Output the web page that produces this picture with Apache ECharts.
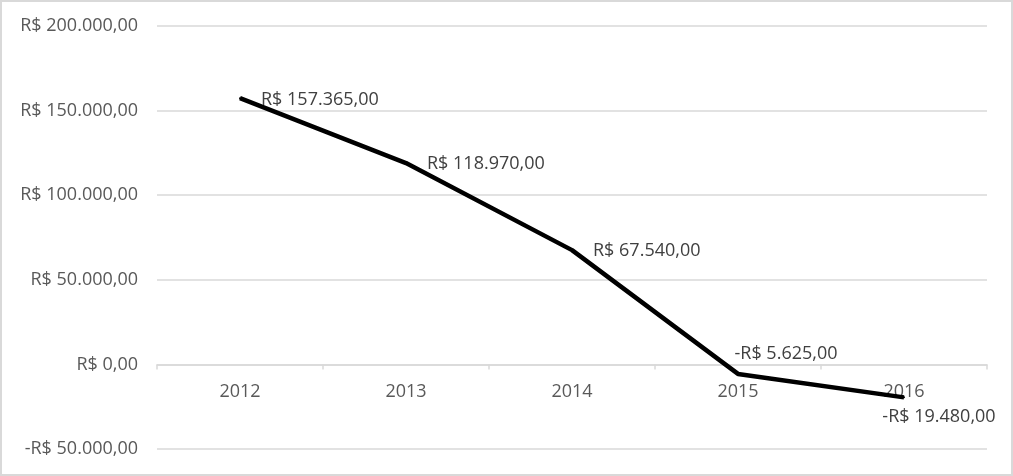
<!DOCTYPE html>
<html><head><meta charset="utf-8">
<script src="https://cdn.jsdelivr.net/npm/echarts@6/dist/echarts.min.js"></script>
<style>
html,body{margin:0;padding:0;background:#fff;}
#wrap{position:relative;width:1013px;height:476px;}
#c{width:1013px;height:476px;}
#frame{position:absolute;left:0;top:0;width:1013px;height:476px;box-sizing:border-box;border:2px solid #d9d9d9;pointer-events:none;}
</style></head>
<body><div id="wrap"><div id="c"></div><div id="frame"></div></div>
<script>
const categories = ['2012','2013','2014','2015','2016'];
const values = [157365, 118970, 67540, -5625, -19480];
const yTicks = {min:-50000, max:200000, interval:50000};

function brl(v){
  const neg = v < 0;
  const a = Math.abs(v);
  const s = String(Math.round(a)).replace(/\B(?=(\d{3})+(?!\d))/g, '.');
  return (neg ? '-' : '') + 'R$ ' + s + ',00';
}

const labelStyles = [
  {position:'right', offset:[12,2]},
  {position:'right', offset:[12,1]},
  {position:'right', offset:[12,1]},
  {position:'top', offset:[48,-2]},
  {position:'bottom', offset:[35,2]}
];

const FONT = 'Open Sans';
const FS = 18;
const chart = echarts.init(document.getElementById('c'), null, {renderer:'canvas'});
chart.setOption({
  animation:false,
  grid:{left:157, right:26, top:26, bottom:27, containLabel:false, outerBoundsMode:'none'},
  xAxis:{
    type:'category', data:categories, boundaryGap:true,
    axisLine:{show:true, onZero:false, lineStyle:{color:'#d9d9d9', width:1.5}},
    axisTick:{show:true, length:5, lineStyle:{color:'#d9d9d9', width:1.5}},
    axisLabel:{color:'#595959', fontFamily:FONT, fontSize:FS, margin:18},
    splitLine:{show:false}
  },
  yAxis:{
    type:'value', min:yTicks.min, max:yTicks.max, interval:yTicks.interval,
    axisLine:{show:false}, axisTick:{show:false},
    axisLabel:{color:'#595959', fontFamily:FONT, fontSize:FS, margin:19, formatter:brl},
    splitLine:{lineStyle:{color:'#d9d9d9', width:1.5}}
  },
  series:[{
    type:'line', showSymbol:true, symbol:'circle', symbolSize:2,
    itemStyle:{color:'#000'},
    lineStyle:{color:'#000', width:4.5},
    data: values.map((v,i)=>({value:v, label:Object.assign({show:true}, labelStyles[i])})),
    label:{show:true, color:'#404040', fontFamily:FONT, fontSize:FS, distance:8,
      formatter:p=>brl(p.value)}
  }]
});
const zeroY = chart.convertToPixel({yAxisIndex:0}, 0);
const minY = chart.convertToPixel({yAxisIndex:0}, yTicks.min);
chart.setOption({xAxis:{offset: zeroY - minY}});
</script></body></html>
